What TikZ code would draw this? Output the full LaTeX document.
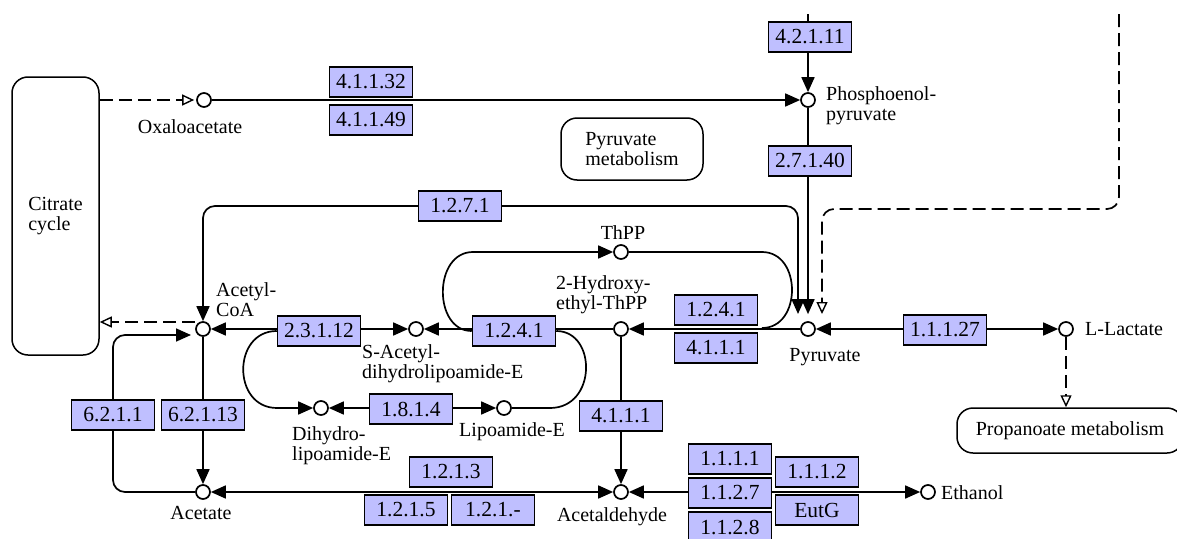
\documentclass[tikz,border=0pt]{standalone}
\usepackage{fontspec}
\setmainfont{Liberation Serif}
\usetikzlibrary{arrows.meta}
\definecolor{enzfill}{HTML}{BFBFFF}
\pgfdeclarelayer{bg}
\pgfsetlayers{bg,main}
\newcommand\kfont{\fontsize{20}{20}\selectfont}
\newcommand\kefont{\fontsize{21.5}{21.5}\selectfont}
\tikzset{
  Kf/.tip={Triangle[length=15pt,width=13pt]},
  Ko/.tip={Triangle[open,length=12pt,width=11pt,line width=1.4pt]},
}
\begin{document}
\begin{tikzpicture}[x=1pt,y=-1pt,
  every node/.style={font=\kfont},
  cpd/.style={circle, draw, fill=white, line width=1.7pt, minimum size=14pt, inner sep=0pt},
  enz/.style={draw, fill=enzfill, line width=1.5pt, minimum width=83pt, minimum height=30pt, inner sep=0pt, font=\kefont},
  txt/.style={inner sep=0pt, align=left},
  mapbox/.style={draw, rounded corners=16pt, line width=1.5pt, inner sep=0pt, align=left},
  conn/.style={line width=1.7pt},
  kdash/.style={dash pattern=on 13pt off 6pt}]
\useasboundingbox (0,0) rectangle (1177,538);
\clip (0,0) rectangle (1177,538);

% map boxes
\node[mapbox, minimum width=87pt, minimum height=278pt] (citrate) at (55.5,216) {Citrate\\cycle};
\node[mapbox, minimum width=142pt, minimum height=62pt] (pyrmet) at (632,149) {Pyruvate\\metabolism};
\node[mapbox, minimum width=226pt, minimum height=45pt] (prop) at (1070,430.5) {Propanoate metabolism};

% compounds
\node[cpd] (oaa) at (204,100) {};
\node[cpd] (pep) at (808,100) {};
\node[cpd] (pyr) at (808,329) {};
\node[cpd] (lac) at (1066,329) {};
\node[cpd] (aco) at (203,329) {};
\node[cpd] (sac) at (416,329) {};
\node[cpd] (hthpp) at (621,329) {};
\node[cpd] (thpp) at (621,252) {};
\node[cpd] (dih) at (321,408) {};
\node[cpd] (lip) at (504,408) {};
\node[cpd] (acetate) at (203,492) {};
\node[cpd] (acald) at (621,492) {};
\node[cpd] (etoh) at (928,492) {};

% free ends
\coordinate (top1) at (808,14);
\coordinate (dtop) at (1119,14);
\coordinate (pyrA) at (798,314);
\coordinate (pyrB) at (822,314);
\coordinate (acoD) at (195,322);
\coordinate (acoB) at (191,335);
\coordinate (thppEnd) at (762,328);

% enzymes
\node[enz] (e41132) at (371,82) {4.1.1.32};
\node[enz] (e41149) at (371,120) {4.1.1.49};
\node[enz] (e42111) at (810,37) {4.2.1.11};
\node[enz] (e27140) at (810,161) {2.7.1.40};
\node[enz] (e1271) at (460,206) {1.2.7.1};
\node[enz] (e1241r) at (716,310) {1.2.4.1};
\node[enz] (e4111r) at (716,348) {4.1.1.1};
\node[enz] (e1241m) at (514,331) {1.2.4.1};
\node[enz] (e23112) at (319,331) {2.3.1.12};
\node[enz] (e1814) at (411,409) {1.8.1.4};
\node[enz] (e6211) at (113,415) {6.2.1.1};
\node[enz] (e62113) at (203,415) {6.2.1.13};
\node[enz] (e4111m) at (621,416) {4.1.1.1};
\node[enz] (e1213) at (451,472) {1.2.1.3};
\node[enz] (e1215) at (406,510) {1.2.1.5};
\node[enz] (e121x) at (493,510) {1.2.1.-};
\node[enz] (e1111) at (730,459) {1.1.1.1};
\node[enz] (e1127) at (730,493) {1.1.2.7};
\node[enz] (e1128) at (730,527) {1.1.2.8};
\node[enz] (e1112) at (817,472) {1.1.1.2};
\node[enz] (eutg) at (817,510) {EutG};
\node[enz] (e11127) at (945,330) {1.1.1.27};

% labels
\node[txt] (l-oaa) at (190,127) {Oxaloacetate};
\node[txt, anchor=west] (l-pep) at (826,106) {Phosphoenol-\\pyruvate};
\node[txt] (l-thpp) at (623,233) {ThPP};
\node[txt, anchor=west] (l-hthpp) at (556,295) {2-Hydroxy-\\ethyl-ThPP};
\node[txt, anchor=west] (l-aco) at (216,300) {Acetyl-\\CoA};
\node[txt, anchor=west] (l-sac) at (362,364) {S-Acetyl-\\dihydrolipoamide-E};
\node[txt, anchor=west] (l-dih) at (292,446) {Dihydro-\\lipoamide-E};
\node[txt] (l-lip) at (512,432) {Lipoamide-E};
\node[txt] (l-pyr) at (825,357) {Pyruvate};
\node[txt, anchor=west] (l-lac) at (1085,329) {L-Lactate};
\node[txt] (l-acetate) at (201,513) {Acetate};
\node[txt] (l-acald) at (612,517) {Acetaldehyde};
\node[txt, anchor=west] (l-etoh) at (941,493) {Ethanol};

% connectors
\begin{pgfonlayer}{bg}
\draw[conn,-Kf] (oaa) -- (pep);
\draw[conn,kdash,-Ko,shorten >=2pt] (citrate.east |- oaa) -- (oaa);
\draw[conn,-Kf] (top1) -- (pep);
\draw[conn,-Kf,shorten >=7pt] (pep) -- (pyr);
\draw[conn,Kf-Kf,rounded corners=12pt] (pyrA) -- (798,206) -- (203,206) -- (aco);
\draw[conn,kdash,-Ko,rounded corners=12pt] (dtop) -- (1119,209) -- (822,209) -- (pyrB);
\draw[conn,Kf-Kf] (pyr) -- (lac);
\draw[conn,kdash,-Ko] (lac) -- (lac |- prop.north);
\draw[conn,-Kf] (pyr) -- (hthpp);
\draw[conn,-Kf] (hthpp) -- (sac);
\draw[conn,Kf-Kf] (sac) -- (aco);
\draw[conn,kdash,-Ko] (acoD) -- (acoD -| citrate.east);
\draw[conn,-Kf,rounded corners=12pt] (acetate) -- (113,492) -- (113,335) -- (acoB);
\draw[conn,-Kf] (aco) -- (acetate);
\draw[conn,Kf-Kf] (acald) -- (acetate);
\draw[conn,-Kf] (hthpp) -- (acald);
\draw[conn,Kf-Kf] (acald) -- (etoh);
\draw[conn,Kf-Kf] (dih) -- (lip);
\draw[conn,-Kf] (e23112.west) .. controls (232,331) and (232,408) .. (277,408) -- (dih);
\draw[conn] (lip) -- (550,408) .. controls (597,408) and (597,331) .. (e1241m.east);
\draw[conn,-Kf] (e1241m.west) .. controls (433,331) and (433,252) .. (473,252) -- (thpp);
\draw[conn] (thpp) -- (762,252) .. controls (802,252) and (802,328) .. (thppEnd);
\end{pgfonlayer}
\end{tikzpicture}
\end{document}
